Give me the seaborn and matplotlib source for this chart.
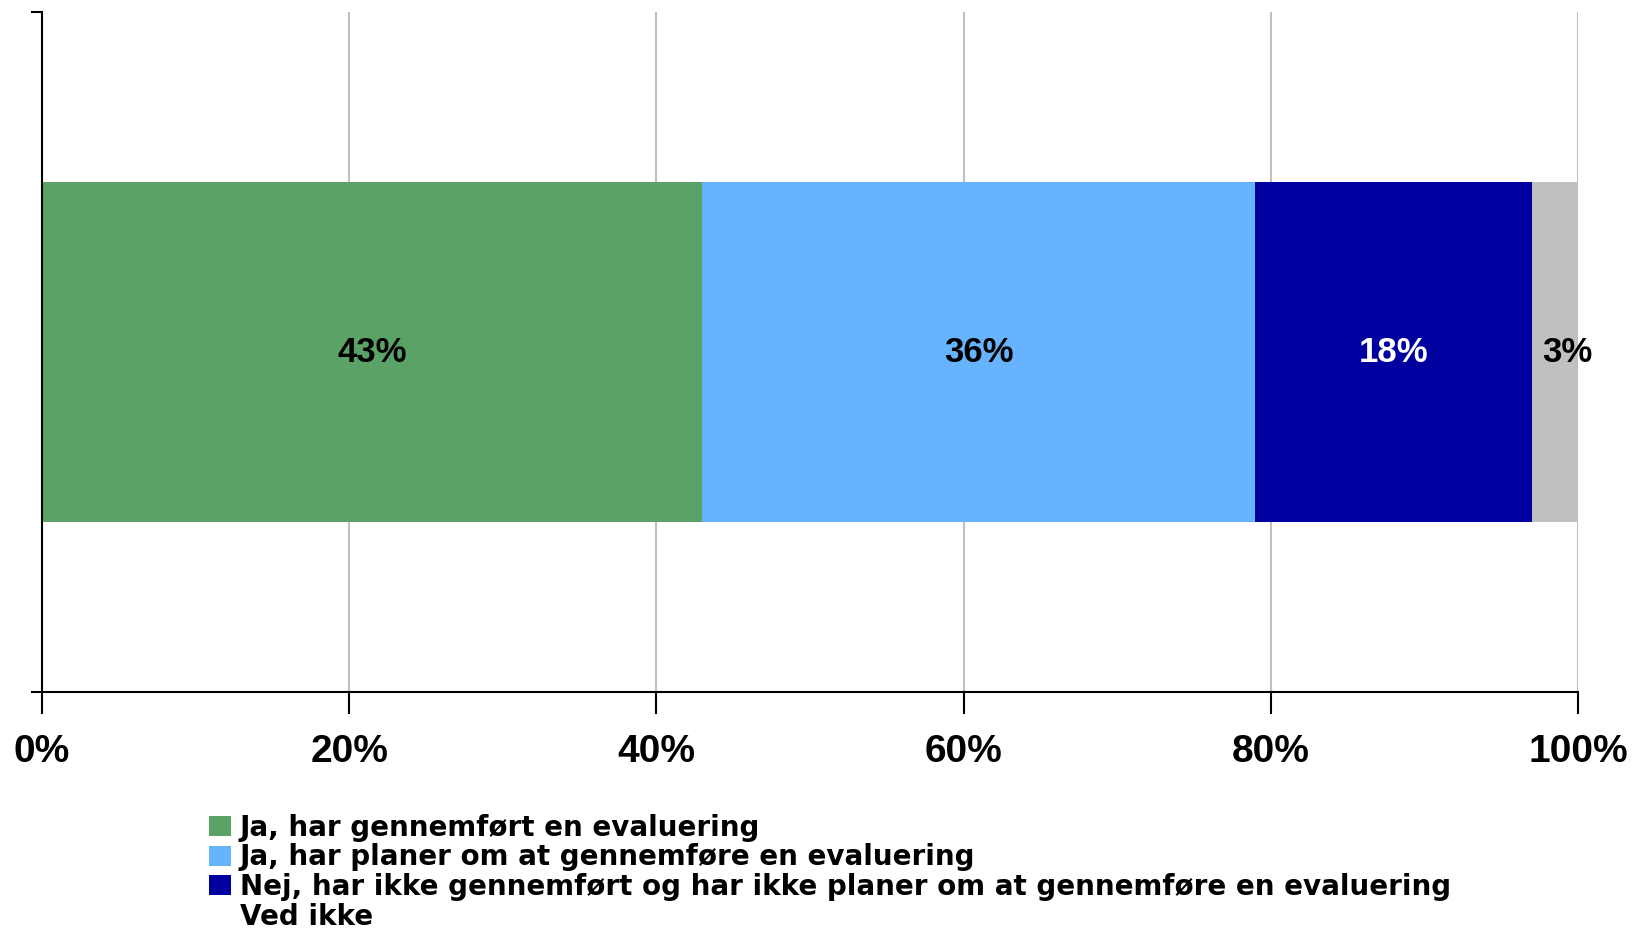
import pandas as pd
import seaborn as sns
import matplotlib.pyplot as plt
from matplotlib.patches import Patch

# Survey answers (share of respondents, %)
answers = [
    "Ja, har gennemført en evaluering",
    "Ja, har planer om at gennemføre en evaluering",
    "Nej, har ikke gennemført og har ikke planer om at gennemføre en evaluering",
    "Ved ikke",
]
shares = [43, 36, 18, 3]
colors = ["#5BA266", "#66B3FF", "#0000A0", "#C0C0C0"]
label_colors = ["black", "black", "white", "black"]
x_ticks = [0, 20, 40, 60, 80, 100]
x_ticklabels = ["0%", "20%", "40%", "60%", "80%", "100%"]

df = pd.DataFrame({"answer": answers, "share": shares})
df["cum"] = df["share"].cumsum()
df["group"] = ""

sns.set_style("white")
plt.rcParams["font.family"] = ["Liberation Sans", "DejaVu Sans"]
plt.rcParams["text.color"] = "black"
plt.rcParams["xtick.color"] = "black"
plt.rcParams["ytick.color"] = "black"

fig = plt.figure(figsize=(16.33, 9.30), dpi=100)
ax = fig.add_axes([0.0257, 0.2559, 0.9406, 0.7312])

# Stack by drawing cumulative bars from the widest to the narrowest
for i in reversed(range(len(df))):
    sns.barplot(
        data=df.iloc[[i]],
        x="cum",
        y="group",
        color=colors[i],
        saturation=1,
        width=0.5,
        linewidth=0,
        orient="h",
        ax=ax,
    )

# Value labels in the middle of each segment (the tiny last one is nudged right)
for i, row in df.iterrows():
    nudge = 9 if i == len(df) - 1 else 0
    ax.annotate(
        f"{row['share']}%",
        xy=(row["cum"] - row["share"] / 2, 0),
        xytext=(nudge, 0),
        textcoords="offset points",
        ha="center",
        va="center",
        fontsize=25,
        fontweight="bold",
        color=label_colors[i],
    )

ax.set_xlim(0, 100)
ax.set_ylim(0.5, -0.5)
ax.set_xticks(x_ticks)
ax.set_xticklabels(x_ticklabels, fontsize=28, fontweight="bold")
ax.set_yticks([-0.5, 0.5])
ax.set_yticklabels(["", ""])
ax.tick_params(axis="x", direction="out", length=16, width=1.5, pad=14, bottom=True)
ax.tick_params(axis="y", direction="out", length=8, width=1.5, left=True)
ax.set_xlabel("")
ax.set_ylabel("")

# Vertical grid lines only
ax.set_axisbelow(True)
ax.xaxis.grid(True, color="#C0C0C0", linewidth=1.5)
ax.yaxis.grid(False)

for side in ["top", "right"]:
    ax.spines[side].set_visible(False)
for side in ["left", "bottom"]:
    ax.spines[side].set_color("black")
    ax.spines[side].set_linewidth(1.5)

# Legend ("Ved ikke" has no visible swatch in the original)
handles = [Patch(facecolor=c, edgecolor="none") for c in colors[:3]]
handles.append(Patch(facecolor="none", edgecolor="none"))
fig.legend(
    handles,
    answers,
    loc="upper left",
    bbox_to_anchor=(0.1195, 0.14),
    frameon=False,
    handlelength=0.8,
    handleheight=0.72,
    handletextpad=0.3,
    labelspacing=0.06,
    borderpad=0,
    prop={"family": "DejaVu Sans", "weight": "bold", "size": 20},
)

plt.savefig("out.png", dpi=100)
plt.close()
